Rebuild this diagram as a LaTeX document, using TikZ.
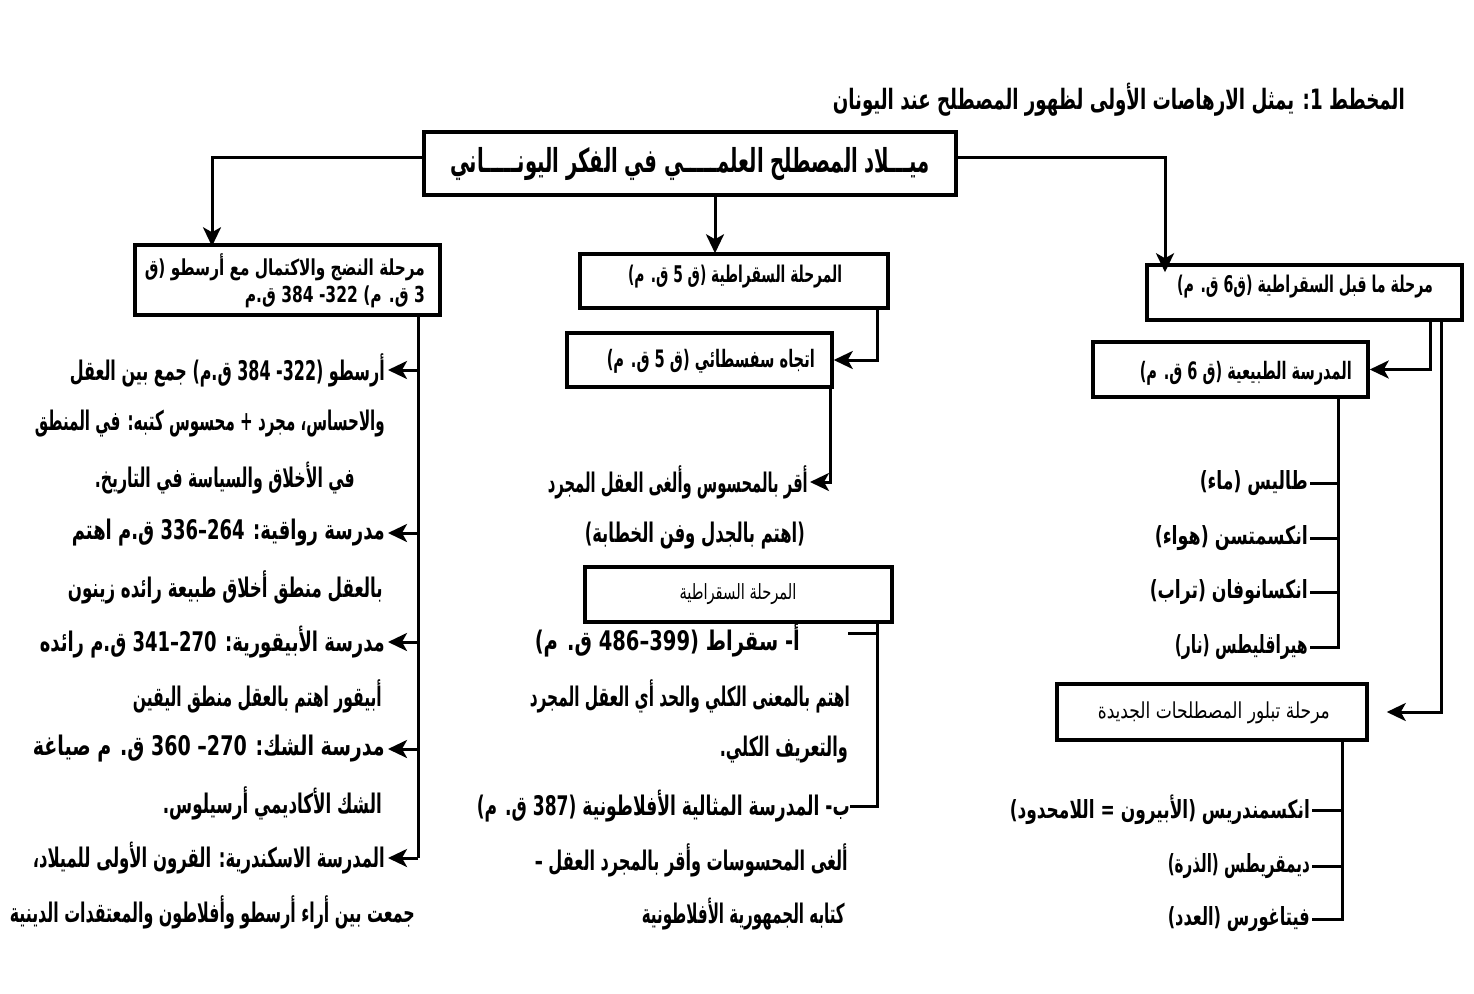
\documentclass[tikz,border=0pt]{standalone}
\usepackage{fontspec}
\usepackage{graphicx}
\usetikzlibrary{arrows.meta,calc}
\TeXXeTstate=1
\newfontfamily\arfont[Script=Arabic]{DejaVu Sans}
% bold / regular Arabic line squeezed to a given width (pt), size (pt)
\newcommand\arb[3]{\resizebox{#1pt}{\height}{\arfont\bfseries\fontsize{#2pt}{#2pt}\selectfont #3}}
\newcommand\arr[3]{\resizebox{#1pt}{\height}{\arfont\fontsize{#2pt}{#2pt}\selectfont #3}}
\tikzset{
  boxn/.style={draw, line width=3.5pt, inner sep=0pt},
  txt/.style={inner sep=0pt, anchor=east},
  ctxt/.style={inner sep=0pt},
  conn/.style={line width=3pt},
  arr/.style={conn, -{Stealth[length=19pt,width=18pt,inset=5pt]}},
}
\begin{document}
\begin{tikzpicture}[x=1pt,y=-1pt]
\fill[white] (0,0) rectangle (1474,993);
\useasboundingbox (0,0) rectangle (1474,993);

% title
\node[txt] (title) at (1405,100) {\arb{572}{28}{\beginR المخطط 1: يمثل الارهاصات الأولى لظهور المصطلح عند اليونان\endR}};

% top box
\node[boxn, minimum width=532, minimum height=63] (top) at (690,163.5) {};
\node[ctxt] (toptxt) at (690,164) {\arb{480}{33}{\beginR ميـــلاد المصطلح العلمـــــي في الفكر اليونـــــاني\endR}};

% column boxes
\node[boxn, minimum width=305, minimum height=70] (lbox) at (287.5,280) {};
\node[txt] (lb1) at (425,267) {\arb{280}{22}{\beginR مرحلة النضج والاكتمال مع أرسطو (ق\endR}};
\node[txt] (lb2) at (425,297) {\arb{180}{22}{\beginR 3 ق. م) 322-  384 ق.م\endR}};

\node[boxn, minimum width=308, minimum height=54] (mbox1) at (734,281) {};
\node[ctxt] (mb1) at (735,277) {\arb{214}{23}{\beginR المرحلة السقراطية (ق 5 ق. م)\endR}};
\node[boxn, minimum width=265, minimum height=54] (mbox2) at (699.5,360) {};
\node[txt] (mb2) at (815,361) {\arb{208}{24}{\beginR اتجاه سفسطائي (ق 5 ق. م)\endR}};
\node[boxn, minimum width=307, minimum height=55] (mbox3) at (738.5,594.5) {};
\node[ctxt] (mb3) at (738,594) {\arr{117}{21}{\beginR المرحلة السقراطية\endR}};

\node[boxn, minimum width=315, minimum height=55] (rbox1) at (1304.5,292.5) {};
\node[ctxt] (rb1) at (1305,287) {\arb{256}{23}{\beginR مرحلة ما قبل السقراطية (ق6  ق. م)\endR}};
\node[boxn, minimum width=275, minimum height=55] (rbox2) at (1230.5,369.5) {};
\node[txt] (rb2) at (1352,373) {\arb{212}{24}{\beginR المدرسة الطبيعية (ق 6 ق. م)\endR}};
\node[boxn, minimum width=310, minimum height=56] (rbox3) at (1212,712) {};
\node[txt] (rb3) at (1330,713) {\arr{232}{22}{\beginR مرحلة تبلور المصطلحات الجديدة\endR}};

% left column texts
\node[txt] (L1) at (385,370) {\arb{315}{27}{\beginR أرسطو (322-  384 ق.م) جمع بين العقل\endR}};
\node[txt] (L2) at (385,424) {\arb{350}{27}{\beginR والاحساس، مجرد + محسوس كتبه: في المنطق\endR}};
\node[txt] (L3) at (355,478) {\arb{260}{27}{\beginR في الأخلاق والسياسة في التاريخ.\endR}};
\node[txt] (L4) at (385,533) {\arb{313}{27}{\beginR مدرسة رواقية: 264–336 ق.م اهتم\endR}};
\node[txt] (L5) at (383,587) {\arb{315}{27}{\beginR بالعقل منطق أخلاق طبيعة  رائده زينون\endR}};
\node[txt] (L6) at (385,642) {\arb{345}{27}{\beginR مدرسة الأبيقورية: 270–341 ق.م رائده\endR}};
\node[txt] (L7) at (382,696) {\arb{249}{27}{\beginR أبيقور اهتم بالعقل منطق اليقين\endR}};
\node[txt] (L8) at (385,749) {\arb{352}{27}{\beginR مدرسة الشك: 270– 360 ق. م صياغة\endR}};
\node[txt] (L9) at (382,803) {\arb{219}{27}{\beginR الشك الأكاديمي أرسيلوس.\endR}};
\node[txt] (L10) at (385,858) {\arb{352}{27}{\beginR المدرسة الاسكندرية: القرون الأولى للميلاد،\endR}};
\node[txt] (L11) at (415,912) {\arb{405}{27}{\beginR جمعت بين أراء أرسطو وأفلاطون والمعتقدات الدينية\endR}};

% middle column texts
\node[txt] (M1) at (808,482) {\arb{260}{27}{\beginR أقر بالمحسوس وألغى العقل المجرد\endR}};
\node[txt] (M2) at (805,536) {\arb{220}{27}{\beginR (اهتم بالجدل  وفن الخطابة)\endR}};
\node[txt] (M3) at (800,640) {\arb{265}{27}{\beginR أ- سقراط (399–486 ق. م)\endR}};
\node[txt] (M4) at (850,696) {\arb{320}{27}{\beginR اهتم بالمعنى الكلي والحد أي العقل المجرد\endR}};
\node[txt] (M5) at (848,750) {\arb{128}{27}{\beginR والتعريف الكلي.\endR}};
\node[txt] (M6) at (850,806) {\arb{373}{27}{\beginR ب- المدرسة المثالية الأفلاطونية (387 ق. م)\endR}};
\node[txt] (M7) at (848,860) {\arb{313}{27}{\beginR ألغى المحسوسات وأقر بالمجرد  العقل –\endR}};
\node[txt] (M8) at (845,914) {\arb{203}{27}{\beginR كتابه الجمهورية الأفلاطونية\endR}};

% right column texts
\node[txt] (R1) at (1308,483) {\arb{108}{25}{\beginR طاليس (ماء)\endR}};
\node[txt] (R2) at (1308,538) {\arb{153}{25}{\beginR انكسمتسن (هواء)\endR}};
\node[txt] (R3) at (1308,592) {\arb{158}{25}{\beginR انكسانوفان (تراب)\endR}};
\node[txt] (R4) at (1308,647) {\arb{133}{25}{\beginR هيراقليطس (نار)\endR}};
\node[txt] (R5) at (1310,810) {\arb{300}{25}{\beginR انكسمندريس (الأبيرون = اللامحدود)\endR}};
\node[txt] (R6) at (1310,866) {\arb{142}{25}{\beginR ديمقريطس (الذرة)\endR}};
\node[txt] (R7) at (1310,919) {\arb{142}{25}{\beginR فيتاغورس (العدد)\endR}};

% helper coordinates
\coordinate (cl) at (212,157);
\coordinate (cm) at (715,0);
\coordinate (cr) at (1165,157);
\coordinate (m1) at (877,0);
\coordinate (m2) at (830,0);
\coordinate (l1) at (418,0);
\coordinate (r1) at (1430,0);
\coordinate (r2) at (1441,0);
\coordinate (r3) at (1338,0);
\coordinate (r4) at (1342,0);
\coordinate (t3) at (848,633);

% top connectors
\draw[arr] (top.west |- cl) -| ([yshift=-3]lbox.north -| cl);
\draw[arr] (top.south -| cm) -- ([yshift=-1]mbox1.north -| cm);
\draw[arr] (top.east |- cr) -| ([yshift=-9]rbox1.north -| cr);

% middle column connectors
\draw[arr] (mbox1.south -| m1) |- (mbox2.east);
\draw[arr] (mbox2.south -| m2) |- ([xshift=2]M1.east);
\draw[conn] (mbox3.south -| m1) |- (M6.east);
\draw[conn] (t3) -- (t3 -| m1);

% left column connectors
\draw[conn] (lbox.south -| l1) -- (l1 |- L10.east);
\foreach \n in {L1,L4,L6,L8,L10}{
  \draw[arr] (\n.east -| l1) -- ([xshift=3]\n.east);
}

% right column connectors
\draw[arr] (rbox1.south -| r1) |- (rbox2.east);
\draw[arr] (rbox1.south -| r2) |- ([xshift=18]rbox3.east);
\draw[conn] (rbox2.south -| r3) |- ([xshift=2]R4.east);
\foreach \n in {R1,R2,R3}{
  \draw[conn] ([xshift=2]\n.east) -- (\n.east -| r3);
}
\draw[conn] (rbox3.south -| r4) |- ([xshift=2]R7.east);
\foreach \n in {R5,R6}{
  \draw[conn] ([xshift=2]\n.east) -- (\n.east -| r4);
}
\end{tikzpicture}
\end{document}
